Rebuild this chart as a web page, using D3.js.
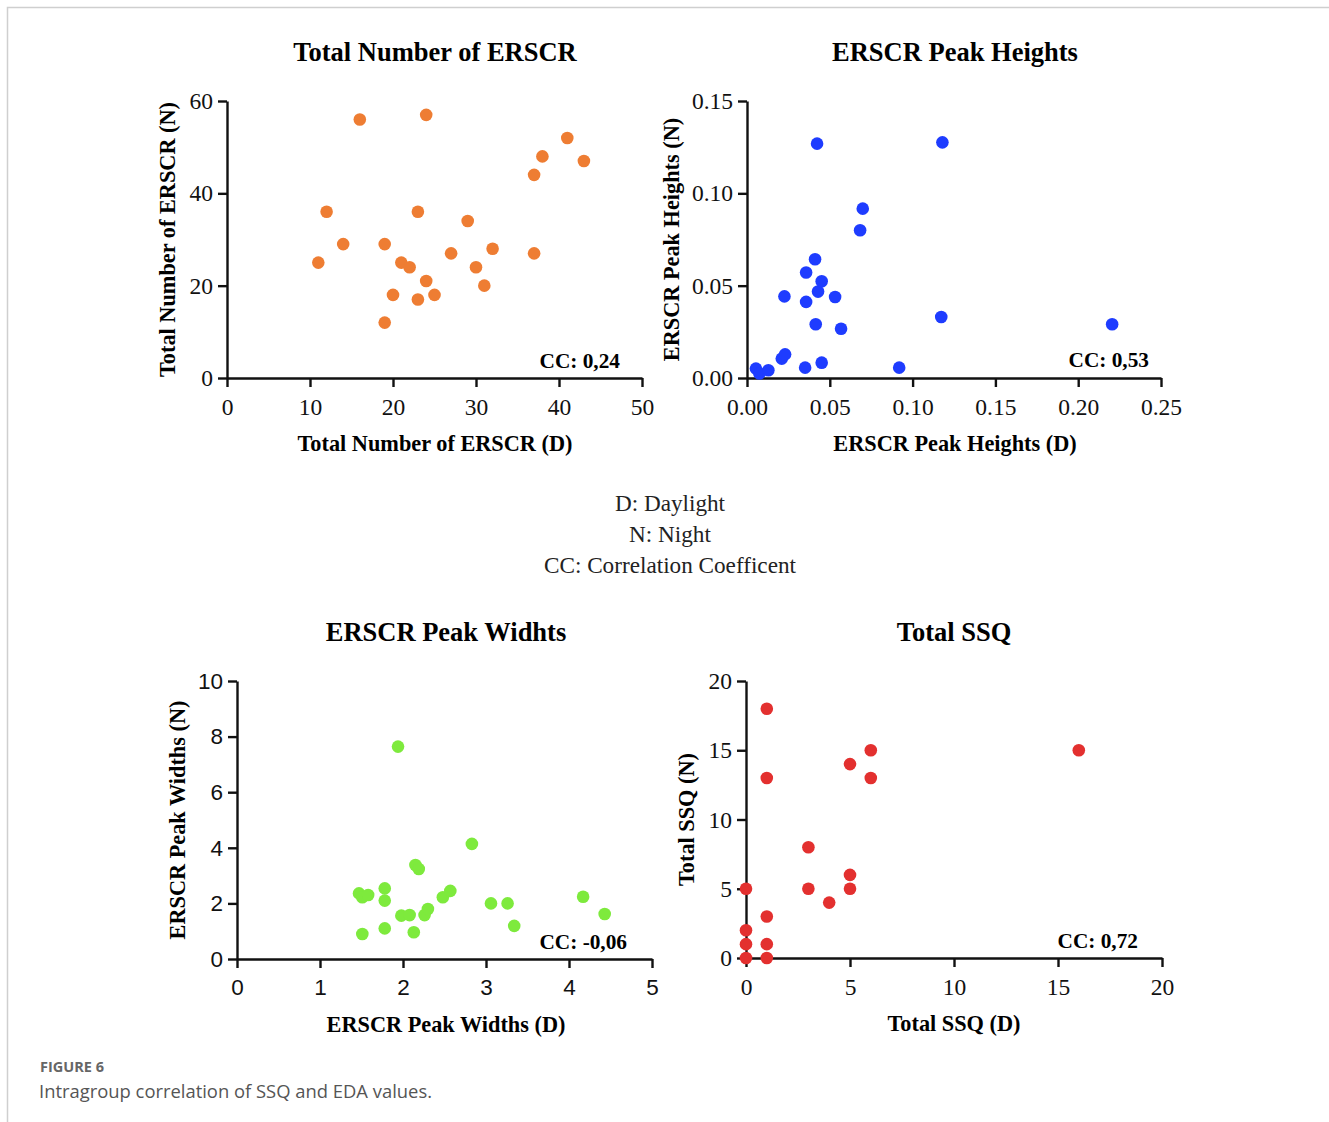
<!DOCTYPE html>
<head>
  <meta charset="utf-8">
  <script src="https://d3js.org/d3.v7.min.js"></script>
  <style>
    body { margin:0; background:#fff; }
    .serif { font-family: "Liberation Serif", "Times New Roman", serif; }
    .axis path, .axis line { stroke:#111; stroke-width:2.4; }
    .axis text { fill:#111; }
  </style>
</head>
<body>
  <script>
    var width = 1329;
    var height = 1122;

    // Total Number of ERSCR
    var countDay   = [11, 12, 14, 16, 19, 19, 20, 21, 22, 23, 23, 24, 24, 25, 27, 29, 30, 31, 32, 37, 37, 38, 41, 43];
    var countNight = [25, 36, 29, 56, 29, 12, 18, 25, 24, 36, 17, 57, 21, 18, 27, 34, 24, 20, 28, 44, 27, 48, 52, 47];

    // ERSCR Peak Heights
    var heightDay   = [0.0054, 0.0075, 0.0129, 0.021, 0.023, 0.0226, 0.0351, 0.0357, 0.0357, 0.0411, 0.0415, 0.0423,
                       0.0429, 0.0451, 0.0451, 0.0532, 0.0568, 0.0683, 0.0699, 0.0919, 0.1173, 0.118, 0.2205];
    var heightNight = [0.0051, 0.0024, 0.0042, 0.0105, 0.0128, 0.0442, 0.0056, 0.0571, 0.0412, 0.0643, 0.0291, 0.1269,
                       0.0468, 0.0524, 0.0083, 0.0439, 0.0267, 0.0800, 0.0917, 0.0056, 0.0330, 0.1276, 0.0291];

    // ERSCR Peak Widths
    var widthDay   = [1.47, 1.51, 1.58, 1.51, 1.78, 1.78, 1.78, 1.94, 1.98, 2.08, 2.13, 2.15, 2.19, 2.26, 2.30, 2.48,
                      2.57, 2.83, 3.06, 3.26, 3.34, 4.17, 4.43];
    var widthNight = [2.36, 2.22, 2.30, 0.90, 2.54, 2.10, 1.10, 7.64, 1.56, 1.58, 0.96, 3.38, 3.24, 1.58, 1.80, 2.22,
                      2.45, 4.14, 2.00, 2.00, 1.19, 2.24, 1.62];

    // Total SSQ
    var ssqDay   = [0, 0, 0, 0, 1, 1, 1, 1, 1, 3, 3, 4, 5, 5, 5, 6, 6, 16];
    var ssqNight = [5, 2, 1, 0, 18, 13, 3, 1, 0, 8, 5, 4, 14, 6, 5, 15, 13, 15];

    var panelTitles = ['Total Number of ERSCR', 'ERSCR Peak Heights', 'ERSCR Peak Widhts', 'Total SSQ'];
    var xLabels = ['Total Number of ERSCR (D)', 'ERSCR Peak Heights (D)', 'ERSCR Peak Widths (D)', 'Total SSQ (D)'];
    var yLabels = ['Total Number of ERSCR (N)', 'ERSCR Peak Heights (N)', 'ERSCR Peak Widths (N)', 'Total SSQ (N)'];
    var ccLabels = ['CC: 0,24', 'CC: 0,53', 'CC: -0,06', 'CC: 0,72'];
    var legendLines = ['D: Daylight', 'N: Night', 'CC: Correlation Coefficent'];

    var xTicks = [[0, 10, 20, 30, 40, 50], [0, 0.05, 0.10, 0.15, 0.20, 0.25], [0, 1, 2, 3, 4, 5], [0, 5, 10, 15, 20]];
    var yTicks = [[0, 20, 40, 60], [0, 0.05, 0.10, 0.15], [0, 2, 4, 6, 8, 10], [0, 5, 10, 15, 20]];

    var svg = d3.select('body').append('svg')
      .attr('width', width)
      .attr('height', height);

    // page frame
    svg.append('path')
      .attr('d', 'M7.5,' + height + 'V7.5H' + width)
      .attr('fill', 'none')
      .attr('stroke', '#cfcfcf')
      .attr('stroke-width', 1.5);

    var panels = [
      { x: countDay,  y: countNight,  color: '#ee7d33', box: [227, 642, 101, 378], fmt: d3.format('d'),   tickFont: 'serif', cx: 435, ylx: 167, cc: [620, 368] },
      { x: heightDay, y: heightNight, color: '#1e3cff', box: [747, 1161, 101, 378], fmt: d3.format('.2f'), tickFont: 'serif', cx: 955, ylx: 671, cc: [1149, 367] },
      { x: widthDay,  y: widthNight,  color: '#7eea3d', box: [237, 652, 681, 959], fmt: d3.format('d'),   tickFont: 'sans',  cx: 446, ylx: 177, cc: [627, 949] },
      { x: ssqDay,    y: ssqNight,    color: '#e3302f', box: [746, 1162, 681, 958], fmt: d3.format('d'),   tickFont: 'serif', cx: 954, ylx: 686, cc: [1138, 948] }
    ];

    panels.forEach(function(p, i) {
      var b = p.box;
      var xs = d3.scaleLinear().domain(d3.extent(xTicks[i])).range([b[0], b[1]]);
      var ys = d3.scaleLinear().domain(d3.extent(yTicks[i])).range([b[3], b[2]]);
      var tickFamily = p.tickFont == 'sans' ? '"Liberation Sans", Arial, sans-serif' : '"Liberation Serif", "Times New Roman", serif';
      var tickSize = p.tickFont == 'sans' ? '22.5px' : '23.5px';

      var g = svg.append('g');

      g.append('g')
        .attr('class', 'axis')
        .attr('transform', 'translate(0,' + b[3] + ')')
        .call(d3.axisBottom(xs).tickValues(xTicks[i]).tickFormat(p.fmt).tickSize(9).tickSizeOuter(0).tickPadding(11))
        .call(function(a) {
          a.selectAll('text').style('font-family', tickFamily).style('font-size', tickSize);
        });

      g.append('g')
        .attr('class', 'axis')
        .attr('transform', 'translate(' + b[0] + ',0)')
        .call(d3.axisLeft(ys).tickValues(yTicks[i]).tickFormat(p.fmt).tickSize(9).tickSizeOuter(0).tickPadding(5))
        .call(function(a) {
          a.selectAll('text').style('font-family', tickFamily).style('font-size', tickSize);
        });

      g.selectAll('.dot')
        .data(p.x.map(function(d, k) { return [d, p.y[k]]; }))
        .enter().append('circle')
        .attr('class', 'dot')
        .attr('cx', function(d) { return xs(d[0]); })
        .attr('cy', function(d) { return ys(d[1]); })
        .attr('r', 6.3)
        .attr('fill', p.color);

      // title
      g.append('text')
        .attr('class', 'serif')
        .attr('x', p.cx)
        .attr('y', b[2] - 40)
        .attr('text-anchor', 'middle')
        .style('font-size', '26.5px')
        .style('font-weight', 'bold')
        .text(panelTitles[i]);

      // x label
      g.append('text')
        .attr('class', 'serif')
        .attr('x', p.cx)
        .attr('y', b[3] + 73)
        .attr('text-anchor', 'middle')
        .style('font-size', '22.3px')
        .style('font-weight', 'bold')
        .text(xLabels[i]);

      // y label
      g.append('text')
        .attr('class', 'serif')
        .attr('transform', 'translate(' + p.ylx + ',' + ((b[2] + b[3]) / 2) + ') rotate(-90)')
        .attr('dy', '0.35em')
        .attr('text-anchor', 'middle')
        .style('font-size', '22.3px')
        .style('font-weight', 'bold')
        .text(yLabels[i]);

      g.append('text')
        .attr('class', 'serif')
        .attr('x', p.cc[0])
        .attr('y', p.cc[1])
        .attr('text-anchor', 'end')
        .style('font-size', '21.3px')
        .style('font-weight', 'bold')
        .text(ccLabels[i]);
    });

    svg.selectAll('.legend')
      .data(legendLines)
      .enter().append('text')
      .attr('class', 'serif legend')
      .attr('x', 670)
      .attr('y', function(d, i) { return 511 + i * 31; })
      .attr('text-anchor', 'middle')
      .style('font-size', '23.2px')
      .attr('fill', '#222')
      .text(function(d) { return d; });

    svg.append('text')
      .attr('x', 40)
      .attr('y', 1072)
      .style('font-family', '"Open Sans", sans-serif')
      .style('font-size', '14.5px')
      .style('font-weight', 'bold')
      .attr('fill', '#666')
      .text('FIGURE 6');

    svg.append('text')
      .attr('x', 39)
      .attr('y', 1098)
      .style('font-family', '"Open Sans", sans-serif')
      .style('font-size', '18.4px')
      .attr('fill', '#555')
      .text('Intragroup correlation of SSQ and EDA values.');
  </script>
</body>
